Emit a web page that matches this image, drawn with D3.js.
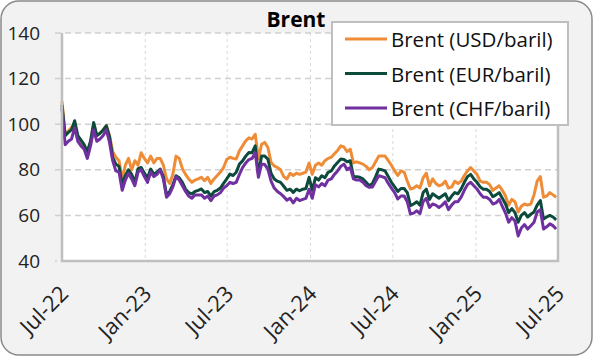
<!DOCTYPE html>
<html><head><meta charset="utf-8">
<script src="https://cdn.jsdelivr.net/npm/d3@7"></script>
<style>
html,body{margin:0;padding:0;background:#fff;}
svg{display:block;font-family:"Open Sans","Noto Sans",sans-serif;}
</style></head>
<body><svg id="c" width="593" height="356"></svg>
<script>
const title = "Brent";
const seriesNames = ["Brent (USD/baril)", "Brent (EUR/baril)", "Brent (CHF/baril)"];
const seriesColors = ["#EE8C37", "#0C4A3C", "#7030A0"];
const startDate = "2022-07-01";
const tickDates = ["2022-07-01","2023-01-01","2023-07-01","2024-01-01","2024-07-01","2025-01-01","2025-07-01"];
const tickLabels = ["Jul-22","Jan-23","Jul-23","Jan-24","Jul-24","Jan-25","Jul-25"];
const yTicks = [40, 60, 80, 100, 120, 140];

const usd = [110,95.5,97,98.5,100.5,94,92.5,90,86.5,92,
100,95,96,97.5,99.5,95,88,85.5,84,76,
82,85,80,84,82,87.5,85,83,86,83,
85,85,82,76,74,78,86,85,80.5,78,
76,74.5,75.5,76,76.7,75.2,76.7,74,76,77.5,
79,81,84.5,85.5,85,84.7,88.3,90.5,92.7,94,
93.5,95.6,84.7,91.2,92,89.8,83.2,81.7,81,80,
77,76,78.5,77.5,78.5,78,78.5,79,83,78,
82,83,82,84,85,85.5,87,88.5,90.5,90,
88,89,83,83.5,83,82.5,81.5,80,81,83.5,
86,86,86,84,82,79.5,77.5,79.5,79,75,
71.6,72,73,72,76.5,78.5,73,76,74,73,
73.5,75,72,72.5,75,74,75,77.5,79.5,81,
79.5,78,75,74.5,74.5,73.5,71,72,73,71,
68.5,64.5,67,66,61.5,64,65,64.5,65,69,
75,77,68,68.5,70,69,68];

const eur = [108.5,95,96.4,97.5,101.5,95,93,91,88,92.5,
100.7,95,96,97.5,99.3,94.5,85.5,82.5,81.5,73.5,
77.5,80,78,74.5,80.5,81,78.5,76.5,80.3,78,
79,80.3,77,69,70.5,73.5,77.4,76.5,74.5,71.5,
70,69.4,70.5,71,71.6,70,70.5,68.5,70.4,71,
72,74,76,78.1,77.5,78.9,82.5,83.9,86,87.6,
87.5,90.5,78.1,86.1,86,84.7,78.5,76,75,74.5,
72.8,71,71.5,70.1,71.5,70.8,71.5,71.8,76.7,71,
76.5,75.5,77.4,76.5,78.9,79.5,81.7,83.2,84.7,84.5,
83.5,84,77,77,76.7,76,74.5,73,74,77,
80.3,80,79.5,77,74.5,72.5,70.5,71.8,71.8,70,
64.3,65,66,64.5,70,71.5,67,69.5,68.5,67.5,
68.5,69.5,66.5,68.5,70,69.5,71.6,74.5,77,78,
76,74.5,72.5,71.5,71.5,70.5,68.2,69,70,67.5,
65,61.2,63,61.2,57,60,61.2,59.3,60.5,61.5,
64.5,66.5,58.4,59.3,60,59.3,58];

const chf = [107,91,92.5,93.5,98.5,92.5,90.5,89,85,90.5,
97.5,92.5,93.5,95,97.5,92,84,79.5,79,71,
75.5,78.5,76,73,79,80,77,74.5,79,77,
78,80,76,68,69.5,72.5,77,75.5,73,70.5,
68.5,67.5,69,69,69,67.5,68.5,66.5,68.5,69,
70,72,73,74.5,74,74.5,78,81,83,84.5,
85,87.5,76.7,82.5,82.3,80.3,75,72,70.5,69.5,
68.2,66.7,67.5,65.5,67.5,66.5,67,67.5,71.5,67.5,
73.5,72.5,74,73,75.5,76,78,79.5,81.5,82.5,
80,81,76,75.5,75.5,74.5,73,72.3,72.5,75,
77.4,77,76.5,74,72,70,67.2,68.5,68.5,66,
60.6,61,62,60.8,66,67.5,63.5,65,64.5,63.5,
64.5,66,62.5,64.5,66,66,68,71,73.5,74.5,
73,71.6,69.5,68,68,67,65,65.5,67,64,
61,57,59,57.5,51,54.5,56,54,55.5,57,
61.5,62.5,54,55,56.3,55.5,54];

const parse = d3.utcParse("%Y-%m-%d");
const start = parse(startDate);
const dates = usd.map((_, i) => d3.utcDay.offset(start, 7 * i));
const series = [usd, eur, chf];

const svg = d3.select("#c");
const W = 593, H = 356;
const L = 62, R = 558, T = 33, B = 261;

svg.append("rect").attr("x", 1).attr("y", 1).attr("width", W - 2).attr("height", H - 2)
  .attr("rx", 18).attr("fill", "#F2F2F2").attr("stroke", "#8a8a8a").attr("stroke-width", 1.5);

const x = d3.scaleUtc().domain([parse(tickDates[0]), parse(tickDates[tickDates.length - 1])]).range([L, R]);
const y = d3.scaleLinear().domain([40, 140]).range([B, T]);

svg.append("rect").attr("x", L).attr("y", T).attr("width", R - L).attr("height", B - T).attr("fill", "#fff");

// vertical grid
svg.append("g").selectAll("line").data(tickDates.slice(1, -1)).join("line")
  .attr("x1", d => x(parse(d))).attr("x2", d => x(parse(d)))
  .attr("y1", T).attr("y2", B)
  .attr("stroke", "#d9d9d9").attr("stroke-width", 1).attr("stroke-dasharray", "3,3");

// horizontal grid
svg.append("g").selectAll("line").data(yTicks.slice(1)).join("line")
  .attr("x1", L - 7).attr("x2", R)
  .attr("y1", d => y(d)).attr("y2", d => y(d))
  .attr("stroke", "#d0d0d0").attr("stroke-width", 1.5).attr("stroke-dasharray", "6,4");
svg.append("line").attr("x1", L - 7).attr("x2", L).attr("y1", y(40)).attr("y2", y(40))
  .attr("stroke", "#d0d0d0").attr("stroke-width", 1.5).attr("stroke-dasharray", "2,4");

// y labels
const yAxis = d3.axisLeft(y).tickValues(yTicks).tickSize(0).tickPadding(0);
const gy = svg.append("g").attr("transform", `translate(${L - 22},0)`).call(yAxis);
gy.select(".domain").remove();
gy.selectAll("text").attr("font-size", 19).attr("fill", "#222").attr("font-family", "Open Sans");

// lines
const line = d3.line().x((d, i) => x(dates[i])).y(d => y(d)).curve(d3.curveLinear);
[0, 1, 2].forEach(s => {
  svg.append("path").datum(series[s]).attr("d", line)
    .attr("fill", "none").attr("stroke", seriesColors[s]).attr("stroke-width", 3)
    .attr("stroke-linejoin", "round");
});

// plot border (left, bottom, right)
svg.append("path").attr("d", `M${L},${T}V${B}H${R}V${T}`)
  .attr("fill", "none").attr("stroke", "#bfbfbf").attr("stroke-width", 2.5);

// x labels
const xAxis = d3.axisBottom(x).tickValues(tickDates.map(parse)).tickSize(0)
  .tickFormat((d, i) => tickLabels[i]);
const gx = svg.append("g").attr("transform", `translate(0,${B})`).call(xAxis);
gx.select(".domain").remove();
gx.selectAll("text").attr("font-size", 22).attr("fill", "#222").attr("font-family", "Open Sans")
  .attr("text-anchor", "end").attr("dy", null).attr("y", null)
  .attr("transform", "translate(3,30) rotate(-45)").attr("dominant-baseline", "middle");

// title
svg.append("text").attr("x", 296).attr("y", 27).attr("text-anchor", "middle")
  .attr("font-size", 21).attr("font-weight", "bold").attr("fill", "#000").text(title);

// legend
const lg = svg.append("g");
lg.append("rect").attr("x", 332).attr("y", 22).attr("width", 236).attr("height", 103)
  .attr("fill", "#fff").attr("stroke", "#bfbfbf").attr("stroke-width", 2);
seriesNames.forEach((n, i) => {
  const yy = 39 + i * 34.5;
  lg.append("line").attr("x1", 345).attr("x2", 387).attr("y1", yy).attr("y2", yy)
    .attr("stroke", seriesColors[i]).attr("stroke-width", 3);
  lg.append("text").attr("x", 391).attr("y", yy).attr("dominant-baseline", "central")
    .attr("font-size", 20.5).attr("fill", "#111").text(n);
});
</script></body></html>
